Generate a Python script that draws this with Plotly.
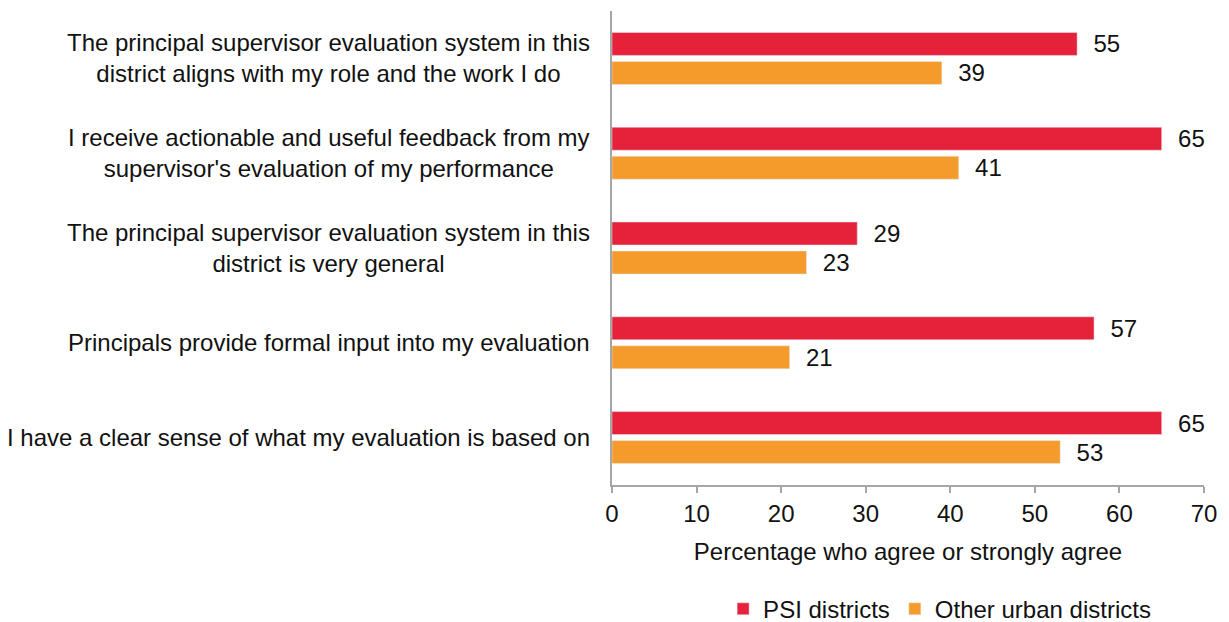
import plotly.graph_objects as go

categories = [
    "The principal supervisor evaluation system in this<br>district aligns with my role and the work I do",
    "I receive actionable and useful feedback from my<br>supervisor's evaluation of my performance",
    "The principal supervisor evaluation system in this<br>district is very general",
    "Principals provide formal input into my evaluation",
    "I have a clear sense of what my evaluation is based on",
]
psi = [55, 65, 29, 57, 65]
other = [39, 41, 23, 21, 53]
x_ticks = [0, 10, 20, 30, 40, 50, 60, 70]

FONT = "Liberation Sans, Arial, sans-serif"
FS = 24
TXT = "#111111"
fig = go.Figure()
fig.add_trace(go.Bar(y=categories, x=psi, orientation="h", name="PSI districts",
                     marker_color="#E6213A", text=psi, texttemplate="\u00a0\u00a0%{text}",
                     textposition="outside", constraintext="none",
                     textfont=dict(size=FS, color=TXT), cliponaxis=False))
fig.add_trace(go.Bar(y=categories, x=other, orientation="h", name="Other urban districts",
                     marker_color="#F49B2C", text=other, texttemplate="\u00a0\u00a0%{text}",
                     textposition="outside", constraintext="none",
                     textfont=dict(size=FS, color=TXT), cliponaxis=False))

for c in categories:
    fig.add_annotation(x=0, xref="x", y=c, yref="y", text=c, showarrow=False,
                       xanchor="right", align="center", xshift=-20,
                       font=dict(size=FS, color=TXT, family=FONT))

fig.update_layout(
    width=1221, height=614,
    margin=dict(l=604, r=25, t=3, b=137, autoexpand=False),
    paper_bgcolor="white", plot_bgcolor="white",
    font=dict(family=FONT, size=FS, color=TXT),
    barmode="group", bargap=0.388, bargroupgap=0.207,
    xaxis=dict(range=[0, 70], tickvals=x_ticks, showgrid=False, zeroline=False,
               showline=True, linecolor="#A6A6A6", linewidth=2,
               ticks="outside", ticklen=6, tickcolor="#A6A6A6", tickwidth=2,
               tickfont=dict(size=FS),
               title=dict(text="Percentage who agree or strongly agree", font=dict(size=FS), standoff=17)),
    yaxis=dict(autorange="reversed", showgrid=False, showline=True, linecolor="#A6A6A6",
               linewidth=2, ticks="", showticklabels=False),
    legend=dict(orientation="h", x=0.763, xanchor="center", xref="container",
                y=-0.262, yanchor="middle", yref="paper",
                font=dict(size=FS), traceorder="normal"),
    showlegend=True,
)
fig.write_html("out.html")
